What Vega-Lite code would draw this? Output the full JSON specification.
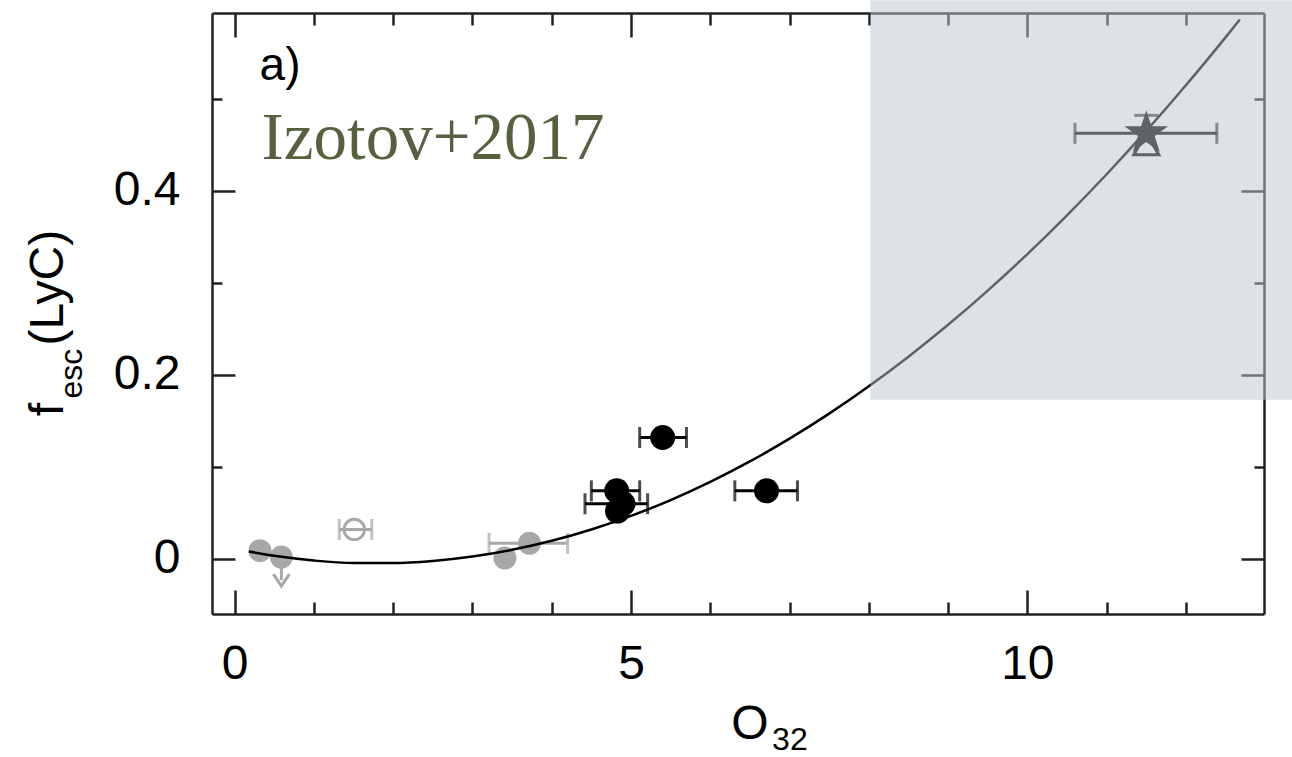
{
  "$schema": "https://vega.github.io/schema/vega-lite/v6.json",
  "width": 1052,
  "height": 601,
  "autosize": {"type": "none"},
  "padding": {"left": 212, "top": 13, "right": 28, "bottom": 143},
  "background": "white",
  "config": {
    "view": {"stroke": null},
    "axis": {
      "grid": false,
      "domainColor": "#222222",
      "domainWidth": 2.5,
      "tickColor": "#222222",
      "tickWidth": 2.5,
      "labelFont": "Liberation Sans",
      "labelFontSize": 48,
      "labelColor": "#000000",
      "labelOverlap": false,
      "labelFlush": false
    }
  },
  "datasets": {
    "curve": [
      {"o32": 0.18, "fit": 0.0080},
      {"o32": 0.5, "fit": 0.0034},
      {"o32": 1.0, "fit": -0.0017},
      {"o32": 1.5, "fit": -0.0044},
      {"o32": 2.0, "fit": -0.0045},
      {"o32": 2.5, "fit": -0.0022},
      {"o32": 3.0, "fit": 0.0026},
      {"o32": 3.5, "fit": 0.0099},
      {"o32": 4.0, "fit": 0.0197},
      {"o32": 4.5, "fit": 0.0320},
      {"o32": 5.0, "fit": 0.0468},
      {"o32": 5.5, "fit": 0.0640},
      {"o32": 6.0, "fit": 0.0838},
      {"o32": 6.5, "fit": 0.1060},
      {"o32": 7.0, "fit": 0.1307},
      {"o32": 7.5, "fit": 0.1579},
      {"o32": 8.0, "fit": 0.1876},
      {"o32": 8.5, "fit": 0.2198},
      {"o32": 9.0, "fit": 0.2544},
      {"o32": 9.5, "fit": 0.2916},
      {"o32": 10.0, "fit": 0.3312},
      {"o32": 10.5, "fit": 0.3734},
      {"o32": 11.0, "fit": 0.4180},
      {"o32": 11.5, "fit": 0.4651},
      {"o32": 12.0, "fit": 0.5147},
      {"o32": 12.5, "fit": 0.5667},
      {"o32": 12.68, "fit": 0.5861}
    ],
    "pts": [
      {"o32": 0.32, "f": 0.009, "tone": "gray", "kind": "filled"},
      {"o32": 0.59, "f": 0.002, "flim": -0.023, "tone": "gray", "kind": "limit"},
      {"o32": 1.51, "f": 0.032, "lo": 1.32, "hi": 1.73, "tone": "gray", "kind": "open"},
      {"o32": 3.41, "f": 0.001, "tone": "gray", "kind": "filled"},
      {"o32": 3.72, "f": 0.017, "lo": 3.21, "hi": 4.20, "tone": "gray", "kind": "filled"},
      {"o32": 4.82, "f": 0.074, "lo": 4.50, "hi": 5.11, "tone": "black", "kind": "filled"},
      {"o32": 4.90, "f": 0.060, "lo": 4.42, "hi": 5.21, "tone": "black", "kind": "filled"},
      {"o32": 4.83, "f": 0.052, "tone": "black", "kind": "filled"},
      {"o32": 5.40, "f": 0.132, "lo": 5.11, "hi": 5.70, "tone": "black", "kind": "filled"},
      {"o32": 6.71, "f": 0.074, "lo": 6.31, "hi": 7.10, "tone": "black", "kind": "filled"},
      {"o32": 11.50, "f": 0.4625, "lo": 10.60, "hi": 12.39, "tone": "black", "kind": "star"},
      {"o32": 11.50, "f": 0.451, "fhi": 0.482, "tone": "black", "kind": "triangle"}
    ],
    "region": [
      {"x1": 8.02, "x2": 13.34, "y1": 0.173, "y2": 0.607}
    ],
    "notes": [
      {"o32": 0.315, "f": 0.52, "text": "a)"}
    ],
    "source": [
      {"o32": 0.34, "f": 0.435, "text": "Izotov+2017"}
    ],
    "titlesBig": [
      {"o32": 6.50, "f": -0.196, "text": "O"}
    ],
    "titlesSub": [
      {"o32": 6.78, "f": -0.2075, "text": "32"}
    ],
    "yTitleBig": [
      {"o32": -2.17, "f": 0.155, "text": "f"},
      {"o32": -2.17, "f": 0.232, "text": "(LyC)"}
    ],
    "yTitleSub": [
      {"o32": -1.93, "f": 0.1744, "text": "esc"}
    ]
  },
  "layer": [
    {
      "data": {"name": "pts"},
      "transform": [{"filter": "isValid(datum.lo)"}],
      "mark": {"type": "rule", "strokeWidth": 3},
      "encoding": {
        "x": {
          "field": "lo", "type": "quantitative",
          "scale": {"domain": [-0.285, 12.985], "nice": false, "zero": false},
          "axis": {
            "orient": "bottom", "title": null,
            "values": [0, 1, 2, 3, 4, 5, 6, 7, 8, 9, 10, 11, 12],
            "labelExpr": "datum.value % 5 == 0 ? datum.label : ''",
            "tickSize": {"condition": {"test": "datum.value % 5 == 0", "value": -24}, "value": -12},
            "labelPadding": 50
          }
        },
        "x2": {"field": "hi"},
        "y": {
          "field": "f", "type": "quantitative",
          "scale": {"domain": [-0.0598, 0.5932], "nice": false, "zero": false},
          "axis": {
            "orient": "left", "title": null,
            "values": [0, 0.1, 0.2, 0.3, 0.4, 0.5],
            "labelExpr": "datum.value == 0 ? '0' : (abs(datum.value * 5 - round(datum.value * 5)) < 0.001 ? format(datum.value, '.1f') : '')",
            "tickSize": {"condition": {"test": "abs(datum.value * 5 - round(datum.value * 5)) < 0.001", "value": -23}, "value": -10},
            "labelPadding": 55
          }
        },
        "color": {"field": "tone", "type": "nominal", "scale": {"domain": ["gray", "black"], "range": ["#a8a8a8", "#000000"]}, "legend": null}
      }
    },
    {
      "data": {"name": "curve"},
      "mark": {"type": "line", "opacity": 0},
      "encoding": {
        "x": {
          "field": "o32", "type": "quantitative",
          "scale": {"domain": [-0.285, 12.985], "nice": false, "zero": false},
          "axis": {
            "orient": "top", "title": null, "labels": false,
            "values": [0, 1, 2, 3, 4, 5, 6, 7, 8, 9, 10, 11, 12],
            "tickSize": {"condition": {"test": "datum.value % 5 == 0", "value": -24}, "value": -12}
          }
        },
        "y": {
          "field": "fit", "type": "quantitative",
          "scale": {"domain": [-0.0598, 0.5932], "nice": false, "zero": false},
          "axis": {
            "orient": "right", "title": null, "labels": false,
            "values": [0, 0.1, 0.2, 0.3, 0.4, 0.5],
            "tickSize": {"condition": {"test": "abs(datum.value * 5 - round(datum.value * 5)) < 0.001", "value": -23}, "value": -10}
          }
        }
      }
    },
    {
      "data": {"name": "pts"},
      "transform": [
        {"filter": "isValid(datum.lo)"},
        {"fold": ["lo", "hi"], "as": ["end", "xv"]}
      ],
      "mark": {"type": "tick", "orient": "vertical", "size": 21, "thickness": 3},
      "encoding": {
        "x": {"field": "xv", "type": "quantitative", "axis": null},
        "y": {"field": "f", "type": "quantitative", "axis": null},
        "color": {"field": "tone", "type": "nominal", "scale": {"domain": ["gray", "black"], "range": ["#a8a8a8", "#000000"]}, "legend": null}
      }
    },
    {
      "data": {"name": "pts"},
      "transform": [{"filter": "datum.kind == 'limit'"}],
      "mark": {"type": "rule", "strokeWidth": 3, "color": "#a8a8a8"},
      "encoding": {
        "x": {"field": "o32", "type": "quantitative", "axis": null},
        "y": {"field": "f", "type": "quantitative", "axis": null},
        "y2": {"field": "flim"}
      }
    },
    {
      "data": {"name": "pts"},
      "transform": [{"filter": "datum.kind == 'limit'"}],
      "mark": {"type": "point", "shape": "M-1,-0.75L0,0.75L1,-0.75", "size": 256, "filled": false, "strokeWidth": 3, "color": "#a8a8a8", "opacity": 1},
      "encoding": {
        "x": {"field": "o32", "type": "quantitative", "axis": null},
        "y": {"field": "flim", "type": "quantitative", "axis": null}
      }
    },
    {
      "data": {"name": "pts"},
      "transform": [{"filter": "datum.kind == 'filled' || datum.kind == 'limit'"}],
      "mark": {"type": "circle", "opacity": 1},
      "encoding": {
        "x": {"field": "o32", "type": "quantitative", "axis": null},
        "y": {"field": "f", "type": "quantitative", "axis": null},
        "size": {"field": "tone", "type": "nominal", "scale": {"domain": ["gray", "black"], "range": [529, 625]}, "legend": null},
        "color": {"field": "tone", "type": "nominal", "scale": {"domain": ["gray", "black"], "range": ["#a8a8a8", "#000000"]}, "legend": null}
      }
    },
    {
      "data": {"name": "pts"},
      "transform": [{"filter": "datum.kind == 'open'"}],
      "mark": {"type": "point", "shape": "circle", "size": 420, "filled": false, "strokeWidth": 3, "color": "#a8a8a8", "opacity": 1},
      "encoding": {
        "x": {"field": "o32", "type": "quantitative", "axis": null},
        "y": {"field": "f", "type": "quantitative", "axis": null}
      }
    },
    {
      "data": {"name": "pts"},
      "transform": [{"filter": "datum.kind == 'triangle'"}],
      "mark": {"type": "rule", "strokeWidth": 3, "color": "#000000"},
      "encoding": {
        "x": {"field": "o32", "type": "quantitative", "axis": null},
        "y": {"field": "f", "type": "quantitative", "axis": null},
        "y2": {"field": "fhi"}
      }
    },
    {
      "data": {"name": "pts"},
      "transform": [{"filter": "datum.kind == 'triangle'"}],
      "mark": {"type": "tick", "orient": "horizontal", "size": 24, "thickness": 3, "color": "#000000"},
      "encoding": {
        "x": {"field": "o32", "type": "quantitative", "axis": null},
        "y": {"field": "fhi", "type": "quantitative", "axis": null}
      }
    },
    {
      "data": {"name": "pts"},
      "transform": [{"filter": "datum.kind == 'triangle'"}],
      "mark": {"type": "point", "shape": "triangle-up", "size": 625, "filled": true, "fill": "#ffffff", "stroke": "#000000", "strokeWidth": 3, "opacity": 1},
      "encoding": {
        "x": {"field": "o32", "type": "quantitative", "axis": null},
        "y": {"field": "f", "type": "quantitative", "axis": null}
      }
    },
    {
      "data": {"name": "pts"},
      "transform": [{"filter": "datum.kind == 'star'"}],
      "mark": {"type": "point", "shape": "M0,-1L0.2245,-0.309L0.9511,-0.309L0.3633,0.118L0.5878,0.809L0,0.382L-0.5878,0.809L-0.3633,0.118L-0.9511,-0.309L-0.2245,-0.309Z", "size": 2116, "filled": true, "color": "#000000", "opacity": 1},
      "encoding": {
        "x": {"field": "o32", "type": "quantitative", "axis": null},
        "y": {"field": "f", "type": "quantitative", "axis": null}
      }
    },
    {
      "data": {"name": "curve"},
      "mark": {"type": "line", "color": "#000000", "strokeWidth": 2.5, "interpolate": "monotone"},
      "encoding": {
        "x": {"field": "o32", "type": "quantitative", "axis": null},
        "y": {"field": "fit", "type": "quantitative", "axis": null}
      }
    },
    {
      "data": {"name": "region"},
      "mark": {"type": "rect", "color": "#b9c6cc", "opacity": 0.5},
      "encoding": {
        "x": {"field": "x1", "type": "quantitative", "axis": null},
        "x2": {"field": "x2"},
        "y": {"field": "y1", "type": "quantitative", "axis": null},
        "y2": {"field": "y2"}
      }
    },
    {
      "data": {"name": "notes"},
      "mark": {"type": "text", "font": "Liberation Sans", "fontSize": 46, "align": "left", "baseline": "alphabetic", "color": "#000000"},
      "encoding": {
        "x": {"field": "o32", "type": "quantitative", "axis": null},
        "y": {"field": "f", "type": "quantitative", "axis": null},
        "text": {"field": "text"}
      }
    },
    {
      "data": {"name": "source"},
      "mark": {"type": "text", "font": "Liberation Serif", "fontSize": 67, "align": "left", "baseline": "alphabetic", "color": "#56623f"},
      "encoding": {
        "x": {"field": "o32", "type": "quantitative", "axis": null},
        "y": {"field": "f", "type": "quantitative", "axis": null},
        "text": {"field": "text"}
      }
    },
    {
      "data": {"name": "titlesBig"},
      "mark": {"type": "text", "font": "Liberation Sans", "fontSize": 48, "align": "center", "baseline": "alphabetic", "color": "#000000"},
      "encoding": {
        "x": {"field": "o32", "type": "quantitative", "axis": null},
        "y": {"field": "f", "type": "quantitative", "axis": null},
        "text": {"field": "text"}
      }
    },
    {
      "data": {"name": "titlesSub"},
      "mark": {"type": "text", "font": "Liberation Sans", "fontSize": 32, "align": "left", "baseline": "alphabetic", "color": "#000000"},
      "encoding": {
        "x": {"field": "o32", "type": "quantitative", "axis": null},
        "y": {"field": "f", "type": "quantitative", "axis": null},
        "text": {"field": "text"}
      }
    },
    {
      "data": {"name": "yTitleBig"},
      "mark": {"type": "text", "font": "Liberation Sans", "fontSize": 48, "align": "left", "baseline": "alphabetic", "angle": 270, "color": "#000000"},
      "encoding": {
        "x": {"field": "o32", "type": "quantitative", "axis": null},
        "y": {"field": "f", "type": "quantitative", "axis": null},
        "text": {"field": "text"}
      }
    },
    {
      "data": {"name": "yTitleSub"},
      "mark": {"type": "text", "font": "Liberation Sans", "fontSize": 32, "align": "left", "baseline": "alphabetic", "angle": 270, "color": "#000000"},
      "encoding": {
        "x": {"field": "o32", "type": "quantitative", "axis": null},
        "y": {"field": "f", "type": "quantitative", "axis": null},
        "text": {"field": "text"}
      }
    }
  ]
}
